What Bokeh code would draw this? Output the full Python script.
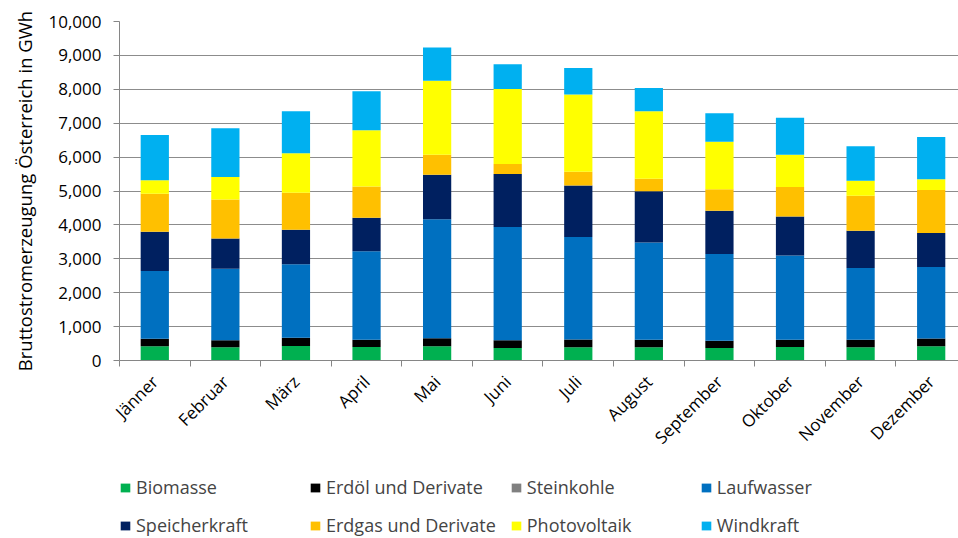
from math import pi
from bokeh.plotting import figure
from bokeh.layouts import column
from bokeh.models import (ColumnDataSource, Range1d, FixedTicker, NumeralTickFormatter,
                          Legend, LegendItem, Title)
from bokeh.embed import file_html
from bokeh.resources import INLINE

months = ["Jänner", "Februar", "März", "April", "Mai", "Juni", "Juli", "August",
          "September", "Oktober", "November", "Dezember"]
series = ["Biomasse", "Erdöl und Derivate", "Steinkohle", "Laufwasser",
          "Speicherkraft", "Erdgas und Derivate", "Photovoltaik", "Windkraft"]
colors = ["#00B050", "#000000", "#808080", "#0070C0", "#002060", "#FFC000", "#FFFF00", "#00B0F0"]

biomasse = [420, 390, 430, 400, 420, 370, 390, 390, 370, 400, 390, 420]
erdoel = [220, 210, 240, 210, 240, 230, 230, 220, 210, 210, 220, 230]
steinkohle = [0, 0, 0, 0, 0, 0, 0, 0, 0, 0, 0, 0]
laufwasser = [2000, 2110, 2170, 2610, 3510, 3340, 3020, 2870, 2560, 2490, 2120, 2110]
speicher = [1160, 890, 1020, 990, 1310, 1560, 1520, 1510, 1280, 1150, 1100, 1000]
erdgas = [1120, 1150, 1090, 920, 590, 300, 410, 370, 630, 870, 1030, 1270]
photovoltaik = [400, 660, 1160, 1660, 2180, 2210, 2280, 1990, 1400, 950, 440, 320]
windkraft = [1330, 1440, 1240, 1150, 980, 730, 780, 690, 840, 1090, 1020, 1240]

y_ticks = list(range(0, 10001, 1000))

FONT = "Open Sans"
xs = list(range(len(months)))
keys = ["s%d" % i for i in range(len(series))]
data = dict(x=xs)
for k, vals in zip(keys, [biomasse, erdoel, steinkohle, laufwasser, speicher, erdgas,
                          photovoltaik, windkraft]):
    data[k] = vals
src = ColumnDataSource(data)

p = figure(width=958, height=466, output_backend="svg", toolbar_location=None,
           x_range=Range1d(-0.5, 11.387), y_range=Range1d(0, 10000),
           min_border_left=118, min_border_right=0, min_border_top=21,
           min_border_bottom=106)
p.outline_line_color = None

p.vbar_stack(keys, x="x", width=0.4, source=src, color=colors, line_color=None)

p.xaxis.ticker = FixedTicker(ticks=xs, minor_ticks=[i - 0.5 for i in range(13)])
p.xaxis.major_label_overrides = {i: m for i, m in enumerate(months)}
p.xaxis.major_label_orientation = pi / 4
p.xaxis.major_tick_line_color = None
p.xaxis.minor_tick_in = 0
p.xaxis.minor_tick_out = 6
p.xaxis.minor_tick_line_color = "#868686"
p.xaxis.axis_line_color = "#868686"
p.xaxis.major_label_text_font = FONT
p.xaxis.major_label_text_font_size = "17px"
p.xaxis.major_label_text_color = "#000000"
p.xaxis.major_label_standoff = 12
p.xgrid.grid_line_color = None

p.yaxis.ticker = FixedTicker(ticks=y_ticks)
p.yaxis.formatter = NumeralTickFormatter(format="0,0")
p.yaxis.major_label_text_font = FONT
p.yaxis.major_label_text_font_size = "17px"
p.yaxis.major_label_text_color = "#000000"
p.yaxis.axis_line_color = "#868686"
p.yaxis.major_tick_line_color = "#868686"
p.yaxis.major_tick_in = 0
p.yaxis.major_tick_out = 6
p.yaxis.minor_tick_line_color = None
p.yaxis.major_label_standoff = 12
p.ygrid.grid_line_color = "#8C8C8C"
p.ygrid.grid_line_width = 1

ytitle = Title(text="Bruttostromerzeugung Österreich in GWh", align="center",
               standoff=18, text_font=FONT, text_font_size="18.5px",
               text_font_style="normal", text_color="#000000")
p.add_layout(ytitle, "left")

# legend panel
q = figure(width=958, height=72, output_backend="svg", toolbar_location=None,
           x_range=Range1d(0, 1), y_range=Range1d(0, 1),
           x_axis_location=None, y_axis_location=None,
           min_border_left=0, min_border_right=0, min_border_top=0, min_border_bottom=0)
q.grid.visible = False
q.outline_line_color = None
nan = float("nan")
lrs = [q.vbar(x=[nan], top=[nan], width=0.1, color=c, line_color=None) for c in colors]
order = [0, 4, 1, 5, 2, 6, 3, 7]
items = [LegendItem(label=series[i], renderers=[lrs[i]]) for i in order]
legend = Legend(items=items, ncols=4, location=(0, 1),
                label_text_font=FONT, label_text_font_size="18px",
                glyph_width=12, glyph_height=11, label_standoff=5,
                label_width=159, label_height=24, spacing=14, padding=0,
                border_line_color=None, background_fill_alpha=0, margin=0)
q.add_layout(legend, "center")

open("out.html", "w").write(file_html(column(p, q), INLINE))
